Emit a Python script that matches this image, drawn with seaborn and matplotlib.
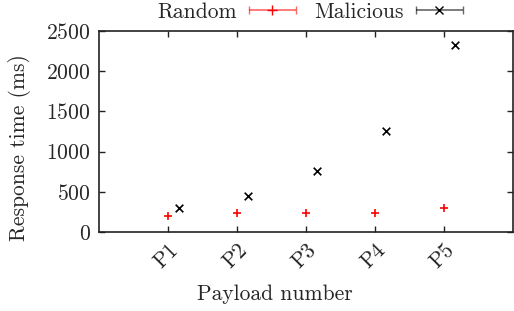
import numpy as np
import matplotlib
matplotlib.use("Agg")
import matplotlib.pyplot as plt
from matplotlib.legend_handler import HandlerErrorbar
import seaborn as sns

# data
payloads = ["P1", "P2", "P3", "P4", "P5"]
random_ms = [200, 240, 240, 240, 300]
malicious_ms = [295, 445, 760, 1255, 2325]

sns.set_style("ticks")
plt.rcParams["font.family"] = ["cmr10", "DejaVu Serif"]
plt.rcParams["mathtext.fontset"] = "cm"
plt.rcParams["axes.formatter.use_mathtext"] = True
plt.rcParams["font.size"] = 15.5

fig = plt.figure(figsize=(5.14, 3.11), dpi=100)
ax = fig.add_axes([99 / 514, 79 / 311, 414 / 514, 201 / 311])

pos = np.arange(1, len(payloads) + 1)
sns.scatterplot(x=pos, y=random_ms, marker="+", color="red", s=40,
                linewidth=1.2, ax=ax, legend=False, zorder=3)
sns.scatterplot(x=pos + 0.16, y=malicious_ms, marker="x", color="black", s=30,
                linewidth=1.2, ax=ax, legend=False, zorder=3)

# gnuplot-like legend entries (horizontal bar with end caps)
h_rand = ax.errorbar([np.nan], [np.nan], xerr=[1], fmt="+", color="red",
                     ecolor=(1, 0, 0, 0.6), capsize=3, elinewidth=1.2,
                     markersize=7, label="Random")
h_mal = ax.errorbar([np.nan], [np.nan], xerr=[1], fmt="x", color="black",
                    ecolor=(0, 0, 0, 0.6), capsize=3, elinewidth=1.2,
                    markersize=6, label="Malicious")
ax.legend(handles=[h_rand, h_mal], loc="lower center",
          bbox_to_anchor=(0.51, 1.045), ncol=2, frameon=False,
          markerfirst=False, handlelength=2.2, handletextpad=0.55,
          columnspacing=0.85, borderaxespad=0.0, borderpad=0.0,
          handler_map={type(h_rand): HandlerErrorbar(xerr_size=1.1)})

ax.set_xlim(0, 6)
ax.set_ylim(0, 2500)
ax.set_xticks(pos)
ax.set_xticklabels(payloads, rotation=45, ha="right", rotation_mode="anchor")
ax.set_yticks(range(0, 2501, 500))
ax.tick_params(direction="in", length=4, width=1, top=True, right=True,
               labelsize=15.5, color="#222222")
ax.tick_params(axis="x", pad=6)
ax.tick_params(axis="y", pad=6)
for s in ax.spines.values():
    s.set_linewidth(1.2)
    s.set_color("#222222")

ax.set_xlabel("Payload number")
ax.set_ylabel("Response time (ms)")
ax.xaxis.set_label_coords(0.425, -0.26)
ax.yaxis.set_label_coords(-0.165, 0.418)

fig.savefig("out.png", dpi=100)
